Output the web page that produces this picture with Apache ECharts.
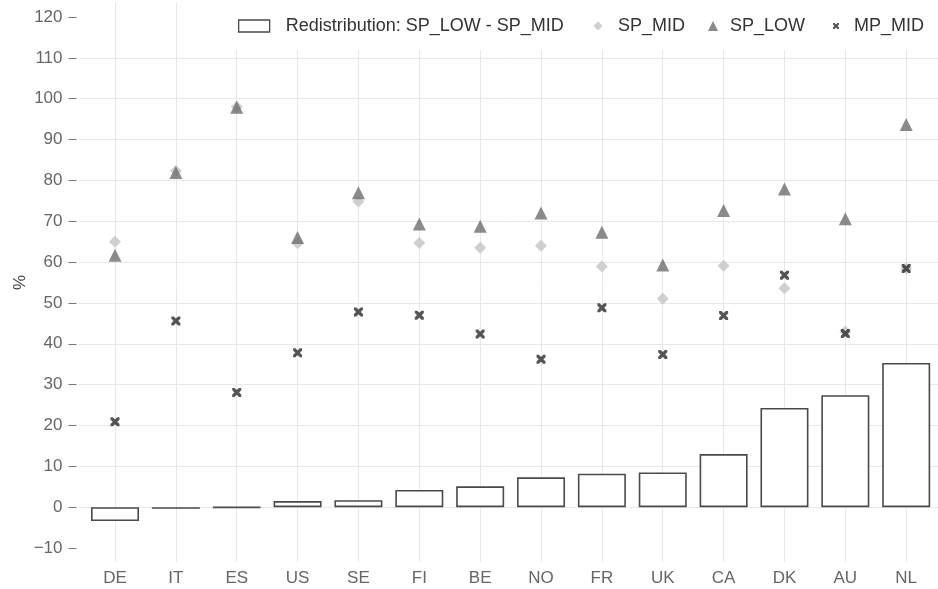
<!DOCTYPE html>
<html><head><meta charset="utf-8">
<script src="https://cdn.jsdelivr.net/npm/echarts@6/dist/echarts.min.js"></script>
<style>html,body{margin:0;padding:0;background:#fff}#c{width:938px;height:589px}</style>
</head><body><div id="c"></div>
<script>
const categories = ['DE','IT','ES','US','SE','FI','BE','NO','FR','UK','CA','DK','AU','NL'];
const redistribution = [-3.4,-0.4,-0.1,1.5,1.7,4.2,5.1,7.3,8.2,8.5,13.0,24.3,27.4,35.3];
const spMid = [65.0,82.3,98.0,64.6,74.8,64.7,63.5,64.0,58.9,51.0,59.1,53.6,43.0,58.4];
const spLow = [61.7,81.9,97.9,66.0,77.0,69.3,68.8,72.0,67.3,59.3,72.6,77.9,70.6,93.7];
const mpMid = [20.9,45.6,28.1,37.8,47.8,47.0,42.4,36.2,48.8,37.4,46.9,56.8,42.5,58.4];
const yTicks = [-10,0,10,20,30,40,50,60,70,80,90,100,110,120];
const names = ['Redistribution: SP_LOW - SP_MID','SP_MID','SP_LOW','MP_MID'];

const idx = categories.map((c,i)=>i);
const pairs = arr => arr.map((v,i)=>[i,v]);
const FONT = 'Liberation Sans, Arial, sans-serif';
const X_PATH = 'path://M0,0L2.6,0L5,2.4L7.4,0L10,0L10,2.6L7.6,5L10,7.4L10,10L7.4,10L5,7.6L2.6,10L0,10L0,7.4L2.4,5L0,2.6Z';
const gridColor = '#e8e8e8';

const chart = echarts.init(document.getElementById('c'), null, {renderer:'canvas'});
const legendBase = {
  orient:'horizontal', padding:0, z:20, selectedMode:false,
  textStyle:{fontFamily:FONT, fontSize:18, color:'#333'}
};
const LT = 17;
chart.setOption({
  animation:false,
  backgroundColor:'#fff',
  grid:{left:78.5, right:-4.7, top:2.7, bottom:26.7, containLabel:false, outerBoundsMode:'none'},
  graphic:[{type:'rect', shape:{x:226, y:0, width:712, height:50}, style:{fill:'#fff'}, z:10, silent:true}],
  legend:[
    Object.assign({}, legendBase, {left:238, top:LT, itemWidth:31, itemHeight:12, icon:'rect', data:[names[0]],
      itemStyle:{color:'#fff', borderColor:'#4a4a4a', borderWidth:1.3},
      textStyle:Object.assign({}, legendBase.textStyle, {padding:[6,0,0,11]})}),
    Object.assign({}, legendBase, {left:593.5, top:LT, itemWidth:9, itemHeight:9, data:[names[1]],
      textStyle:Object.assign({}, legendBase.textStyle, {padding:[6,0,0,10.5]})}),
    Object.assign({}, legendBase, {left:708, top:LT, itemWidth:10, itemHeight:10, data:[names[2]],
      textStyle:Object.assign({}, legendBase.textStyle, {padding:[6,0,0,7]})}),
    Object.assign({}, legendBase, {left:833, top:LT, itemWidth:6, itemHeight:6, data:[names[3]],
      textStyle:Object.assign({}, legendBase.textStyle, {padding:[6,0,0,10]})})
  ],
  xAxis:{
    type:'value', min:-0.6, max:13.6, splitNumber:14, minInterval:1, maxInterval:1,
    axisLine:{show:false, onZero:false}, axisTick:{show:false},
    axisLabel:{customValues:idx, formatter:v=>categories[Math.round(v)], color:'#666',
      fontFamily:FONT, fontSize:17, margin:8},
    splitLine:{show:true, showMinLine:false, showMaxLine:false, lineStyle:{color:gridColor, width:1}}
  },
  yAxis:{
    type:'value', min:-13.5, max:123.5, splitNumber:14, minInterval:10, maxInterval:10, offset:2,
    name:'%', nameLocation:'middle', nameRotate:90, nameGap:48, nameMoveOverlap:false,
    nameTextStyle:{color:'#444', fontFamily:FONT, fontSize:17},
    axisLine:{show:false, onZero:false},
    axisTick:{show:true, customValues:yTicks, length:8, lineStyle:{color:'#777', width:1}},
    axisLabel:{customValues:yTicks, formatter:v=>v<0?'\u2212'+Math.abs(v):String(v), color:'#666',
      fontFamily:FONT, fontSize:17, margin:14},
    splitLine:{show:true, showMinLine:false, showMaxLine:false, lineStyle:{color:gridColor, width:1}}
  },
  series:[
    {name:names[0], type:'bar', data:pairs(redistribution), barWidth:48,
      itemStyle:{color:'#fff', borderColor:'#4a4a4a', borderWidth:1.6}},
    {name:names[1], type:'scatter', data:pairs(spMid), symbol:'diamond', symbolSize:12,
      itemStyle:{color:'#c4c4c4'}},
    {name:names[2], type:'scatter', data:pairs(spLow), symbol:'triangle', symbolSize:13,
      itemStyle:{color:'#6e6e6e'}},
    {name:names[3], type:'scatter', data:pairs(mpMid), symbol:X_PATH, symbolSize:9,
      itemStyle:{color:'#2a2a2a'}}
  ]
});
</script></body></html>
